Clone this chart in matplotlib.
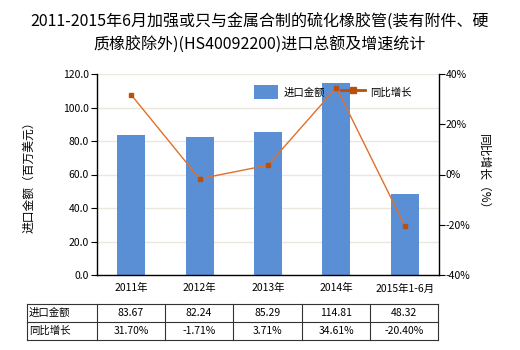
import matplotlib
matplotlib.use("Agg")
import matplotlib.pyplot as plt
from matplotlib.lines import Line2D
from matplotlib.patches import Patch

plt.rcParams['font.family'] = ['Noto Sans CJK SC', 'DejaVu Sans']

categories = ["2011年", "2012年", "2013年", "2014年", "2015年1-6月"]
import_value = [83.67, 82.24, 85.29, 114.81, 48.32]
growth_pct = [31.70, -1.71, 3.71, 34.61, -20.40]
left_ticks = [0, 20, 40, 60, 80, 100, 120]
right_ticks = [-40, -20, 0, 20, 40]

bar_color = "#5a8fd6"
line_color = "#e0702a"
marker_color = "#b8500e"
grid_color = "#ebe7dc"

fig = plt.figure(figsize=(5.2, 3.5), dpi=100)
ax = fig.add_axes([97 / 520, 1 - 275 / 350, (439 - 97) / 520, (275 - 74) / 350])

x = list(range(len(categories)))
ax.bar(x, import_value, width=0.41, color=bar_color, zorder=2)
ax.set_xlim(-0.5, len(categories) - 0.5)
ax.set_ylim(0, 120)
ax.set_yticks(left_ticks)
ax.set_yticklabels([f"{v:.1f}" for v in left_ticks], fontsize=7.5)
ax.set_xticks(x)
ax.set_xticklabels(categories, fontsize=7.5)
ax.tick_params(axis='x', length=0, pad=6)
ax.tick_params(axis='y', length=4, width=0.8, pad=2)
ax.yaxis.grid(True, color=grid_color, linewidth=1, zorder=0)
for s in ("top", "right"):
    ax.spines[s].set_visible(False)
ax.spines['left'].set_linewidth(1)
ax.spines['bottom'].set_linewidth(1)
ax.set_ylabel("进口金额（百万美元）", fontsize=8.5, labelpad=20)

ax2 = ax.twinx()
ax2.plot(x, growth_pct, color=line_color, linewidth=1, marker='s',
         markersize=3.5, markerfacecolor=marker_color, markeredgecolor=marker_color, zorder=3)
ax2.set_ylim(-40, 40)
ax2.set_yticks(right_ticks)
ax2.set_yticklabels([f"{v}%" for v in right_ticks], fontsize=7.5)
ax2.tick_params(axis='y', length=4, width=0.8, pad=1)
for s in ("top", "left", "bottom"):
    ax2.spines[s].set_visible(False)
ax2.spines['right'].set_linewidth(1)
ax2.set_ylabel("同比增长（%）", fontsize=8.5, rotation=270, labelpad=14)

handles = [Patch(facecolor=bar_color, edgecolor='none'),
           Line2D([0], [0], color=marker_color, linewidth=2, marker='s',
                  markersize=4, markerfacecolor=marker_color)]
fig.legend(handles, ["进口金额", "同比增长"], loc='center', bbox_to_anchor=(333 / 520, 1 - 92 / 350),
           ncol=2, frameon=False, fontsize=7.5, handlelength=2.3, handleheight=1.6,
           columnspacing=1.6, handletextpad=0.5)

fig.text(0.5, 1 - 22 / 350, "2011-2015年6月加强或只与金属合制的硫化橡胶管(装有附件、硬",
         ha='center', va='center', fontsize=11.5)
fig.text(0.5, 1 - 45 / 350, "质橡胶除外)(HS40092200)进口总额及增速统计",
         ha='center', va='center', fontsize=11.5)

# data table below the chart
rows = [["进口金额"] + [f"{v:.2f}" for v in import_value],
        ["同比增长"] + [f"{v:.2f}%" for v in growth_pct]]
col_edges = [27, 97, 165, 233, 302, 370, 438]
row_edges = [304, 322, 340]
for y in row_edges:
    fig.add_artist(Line2D([col_edges[0] / 520, col_edges[-1] / 520], [1 - y / 350] * 2,
                          color='#333333', linewidth=0.8))
for xe in col_edges:
    fig.add_artist(Line2D([xe / 520] * 2, [1 - row_edges[0] / 350, 1 - row_edges[-1] / 350],
                          color='#333333', linewidth=0.8))
for r, row in enumerate(rows):
    yc = 1 - (row_edges[r] + row_edges[r + 1]) / 2 / 350
    for c, txt in enumerate(row):
        if c == 0:
            fig.text((col_edges[0] + 2) / 520, yc, txt, ha='left', va='center', fontsize=7.5)
        else:
            xc = (col_edges[c] + col_edges[c + 1]) / 2 / 520
            fig.text(xc, yc, txt, ha='center', va='center', fontsize=7.5)

fig.savefig("out.png", dpi=100)
